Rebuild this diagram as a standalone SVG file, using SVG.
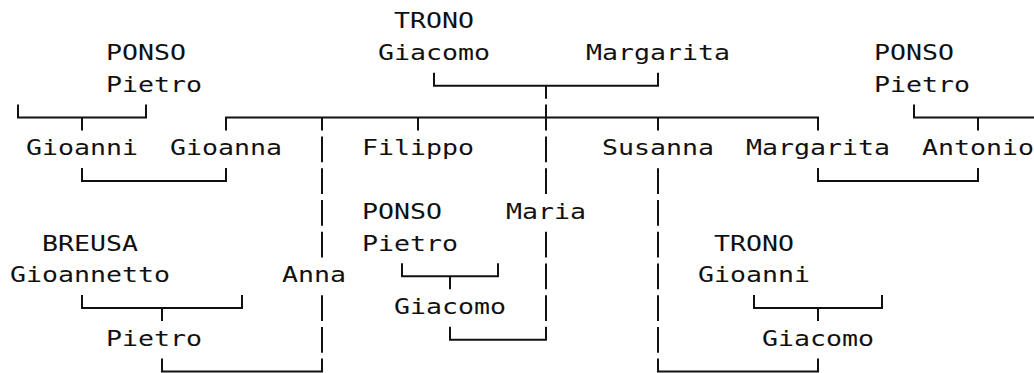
<svg xmlns="http://www.w3.org/2000/svg" width="1034" height="373" viewBox="0 0 1034 373">
<style>
  .t { font-family: "DejaVu Sans Mono", "Liberation Mono", monospace; font-size: 21.3px; fill: #111; }
  .conn path { fill: none; stroke: #111; stroke-width: 2; stroke-linejoin: miter; }
  .conn path.bar { stroke-dasharray: 25.75 6; }
</style>
<rect width="1034" height="373" fill="#fff"/>
<g id="connectors" class="conn">
  <!-- Ponso Pietro (left) -> Gioanni -->
  <path d="M18,104.55 V117.55 H146 V104.55 M82,117.55 V130.55"/>
  <!-- Trono Giacomo + Margarita -> children -->
  <path d="M434,72.8 V85.8 H658 V72.8 M546,85.8 V98.8"/>
  <path d="M226,130.55 V117.55 H818 V130.55 M322,117.55 V130.55 M418,117.55 V130.55 M546,104.55 V130.55 M658,117.55 V130.55"/>
  <!-- Ponso Pietro (right) -> Antonio -->
  <path d="M914,104.55 V117.55 H1034 M978,117.55 V130.55"/>
  <!-- Gioanni = Gioanna -->
  <path d="M82,168.05 V181.05 H226 V168.05"/>
  <!-- Margarita = Antonio -->
  <path d="M818,168.05 V181.05 H978 V168.05"/>
  <!-- line to Anna, then Anna = Pietro -->
  <path class="bar" d="M322,136.4 V257.4"/>
  <path class="bar" d="M322,295.15 V352.65"/>
  <path d="M162,358.55 V371.55 H322 V358.55"/>
  <!-- line to Maria, then Maria = Giacomo -->
  <path class="bar" d="M546,136.4 V193.9"/>
  <path class="bar" d="M546,231.65 V320.9"/>
  <path d="M450,326.8 V339.8 H546 V326.8"/>
  <!-- Susanna = Giacomo -->
  <path class="bar" d="M658,168.15 V352.65"/>
  <path d="M658,358.55 V371.55 H818 V358.55"/>
  <!-- Ponso Pietro -> Giacomo -->
  <path d="M402,263.3 V276.3 H498 V263.3 M450,276.3 V289.3"/>
  <!-- Breusa Gioannetto -> Pietro -->
  <path d="M82,295.05 V308.05 H242 V295.05 M162,308.05 V321.05"/>
  <!-- Trono Gioanni -> Giacomo -->
  <path d="M754,295.05 V308.05 H882 V295.05 M818,308.05 V321.05"/>
</g>
<g id="n-ponso-pietro-1"><text class="t" x="106" y="60.05" textLength="80" lengthAdjust="spacingAndGlyphs">PONSO</text><text class="t" x="106" y="91.8" textLength="96" lengthAdjust="spacingAndGlyphs">Pietro</text></g>
<g id="n-trono-giacomo"><text class="t" x="394" y="28.3" textLength="80" lengthAdjust="spacingAndGlyphs">TRONO</text><text class="t" x="378" y="60.05" textLength="112" lengthAdjust="spacingAndGlyphs">Giacomo</text></g>
<g id="n-margarita-1"><text class="t" x="586" y="60.05" textLength="144" lengthAdjust="spacingAndGlyphs">Margarita</text></g>
<g id="n-ponso-pietro-2"><text class="t" x="874" y="60.05" textLength="80" lengthAdjust="spacingAndGlyphs">PONSO</text><text class="t" x="874" y="91.8" textLength="96" lengthAdjust="spacingAndGlyphs">Pietro</text></g>
<g id="n-gioanni"><text class="t" x="26" y="155.3" textLength="112" lengthAdjust="spacingAndGlyphs">Gioanni</text></g>
<g id="n-gioanna"><text class="t" x="170" y="155.3" textLength="112" lengthAdjust="spacingAndGlyphs">Gioanna</text></g>
<g id="n-filippo"><text class="t" x="362" y="155.3" textLength="112" lengthAdjust="spacingAndGlyphs">Filippo</text></g>
<g id="n-susanna"><text class="t" x="602" y="155.3" textLength="112" lengthAdjust="spacingAndGlyphs">Susanna</text></g>
<g id="n-margarita-2"><text class="t" x="746" y="155.3" textLength="144" lengthAdjust="spacingAndGlyphs">Margarita</text></g>
<g id="n-antonio"><text class="t" x="922" y="155.3" textLength="112" lengthAdjust="spacingAndGlyphs">Antonio</text></g>
<g id="n-ponso-pietro-3"><text class="t" x="362" y="218.8" textLength="80" lengthAdjust="spacingAndGlyphs">PONSO</text><text class="t" x="362" y="250.55" textLength="96" lengthAdjust="spacingAndGlyphs">Pietro</text></g>
<g id="n-maria"><text class="t" x="506" y="218.8" textLength="80" lengthAdjust="spacingAndGlyphs">Maria</text></g>
<g id="n-breusa-gioannetto"><text class="t" x="42" y="250.55" textLength="96" lengthAdjust="spacingAndGlyphs">BREUSA</text><text class="t" x="10" y="282.3" textLength="160" lengthAdjust="spacingAndGlyphs">Gioannetto</text></g>
<g id="n-anna"><text class="t" x="282" y="282.3" textLength="64" lengthAdjust="spacingAndGlyphs">Anna</text></g>
<g id="n-trono-gioanni"><text class="t" x="714" y="250.55" textLength="80" lengthAdjust="spacingAndGlyphs">TRONO</text><text class="t" x="698" y="282.3" textLength="112" lengthAdjust="spacingAndGlyphs">Gioanni</text></g>
<g id="n-giacomo-ponso"><text class="t" x="394" y="314.05" textLength="112" lengthAdjust="spacingAndGlyphs">Giacomo</text></g>
<g id="n-pietro-breusa"><text class="t" x="106" y="345.8" textLength="96" lengthAdjust="spacingAndGlyphs">Pietro</text></g>
<g id="n-giacomo-trono"><text class="t" x="762" y="345.8" textLength="112" lengthAdjust="spacingAndGlyphs">Giacomo</text></g>
</svg>
